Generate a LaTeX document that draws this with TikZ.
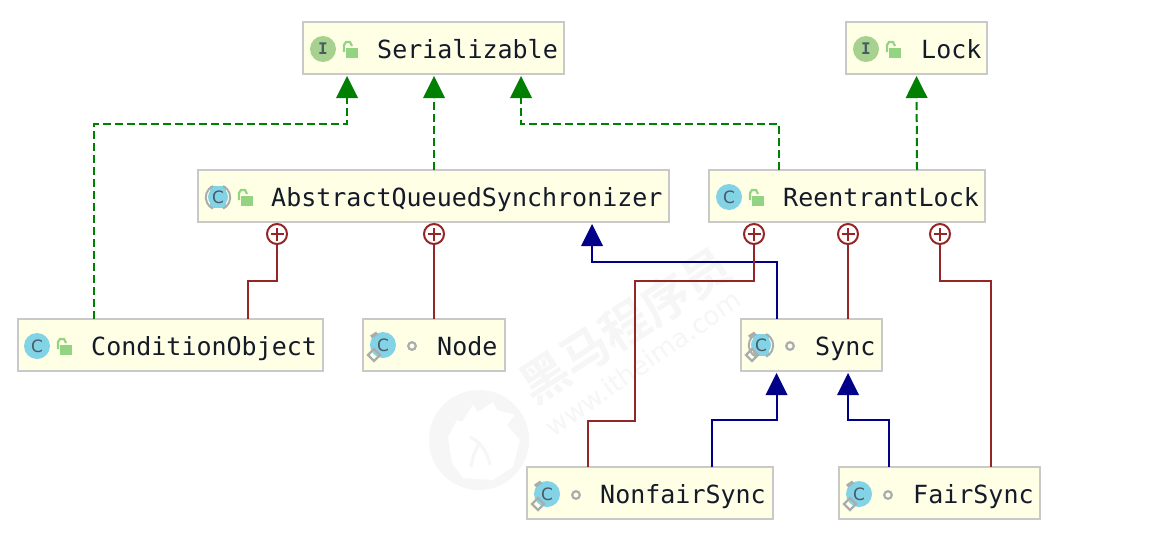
\documentclass[tikz,border=0pt]{standalone}
\usepackage{fontspec}
\setmonofont{DejaVu Sans Mono}
\newfontfamily\cjkface{Noto Sans CJK SC}[BoldFont=* Bold]
\newfontfamily\webface{DejaVu Sans}
\usetikzlibrary{arrows.meta,calc}
\definecolor{boxfill}{HTML}{FFFFE6}
\definecolor{boxedge}{HTML}{C9C9C9}
\definecolor{implgreen}{HTML}{008000}
\definecolor{extblue}{HTML}{000088}
\definecolor{innerred}{HTML}{962626}
\definecolor{classcyan}{HTML}{82D3E6}
\definecolor{ifacegreen}{HTML}{A6D18E}
\definecolor{lockgreen}{HTML}{92D482}
\definecolor{markgray}{HTML}{A9ADAE}
\definecolor{inkdark}{HTML}{141A28}
\definecolor{letterink}{HTML}{4A5A66}
\definecolor{stampgray}{HTML}{F6F6F6}
\tikzset{
  x=1pt,y=-1pt,
  umlbox/.style={draw=boxedge,fill=boxfill,line width=2pt,inner sep=0pt,rectangle,outer sep=0pt},
  umltext/.style={font=\ttfamily\fontsize{25}{26}\selectfont,text=inkdark,inner sep=0pt,anchor=base west},
  impl/.style={draw=implgreen,line width=2pt,dash pattern=on 8pt off 4pt,
    -{Triangle[length=22pt,width=22pt,fill=implgreen,line width=0pt]}},
  extends/.style={draw=extblue,line width=2pt,
    -{Triangle[length=22pt,width=22pt,fill=extblue,line width=0pt]}},
  inner/.style={draw=innerred,line width=2pt},
  plusmark/.style={circle,draw=innerred,line width=2pt,fill=white,minimum size=20pt,inner sep=0pt},
  letter/.style={font=\webface\fontsize{17}{17}\selectfont,text=letterink,inner sep=0pt},
  pics/classicon/.style={code={
    \fill[classcyan] (0,0) circle[radius=13];
    \node[letter] at (0,0) {C};}},
  pics/abstractclassicon/.style={code={
    \fill[classcyan] (0,0) circle[radius=10];
    \fill[classcyan] (-8,-11) rectangle (8,11);
    \node[letter] at (0,0) {C};
    \draw[markgray,line width=2pt] (-5,-11) arc[start angle=245,end angle=115,radius=12.5];
    \draw[markgray,line width=2pt] (5,-11) arc[start angle=295,end angle=425,radius=12.5];}},
  pics/ifaceicon/.style={code={
    \fill[ifacegreen] (0,0) circle[radius=13];
    \node[letter,font=\ttfamily\bfseries\fontsize{16}{16}\selectfont] at (0,0) {I};}},
  pics/staticpin/.style={code={
    \draw[markgray,line width=3.4pt] (-12,-8) -- (-6,-12);
    \draw[markgray,line width=2.2pt] (-9,4) -- (-3,10) -- (-9,16) -- (-15,10) -- cycle;}},
  pics/openlock/.style={code={
    \fill[lockgreen] (-2,-1) rectangle (10,9);
    \draw[lockgreen,line width=2.2pt] (-4,3) -- (-4,-4) -- (-2,-7) -- (2,-7) -- (4,-3);}},
  pics/packagedot/.style={code={
    \draw[markgray,line width=2.2pt,fill=boxfill] (0,0) circle[radius=3.8];}},
}
\begin{document}
\begin{tikzpicture}
\useasboundingbox (0,0) rectangle (1151,557);
\fill[white] (0,0) rectangle (1151,557);

% faint publisher stamp behind the diagram
\node[rotate=33,text=stampgray,font=\cjkface\bfseries\fontsize{48}{48}\selectfont,inner sep=0pt] (stampcn) at (625,325) {黑马程序员};
\node[rotate=35,text=stampgray,font=\webface\fontsize{26}{26}\selectfont,inner sep=0pt] (stampweb) at (643,363) {www.itheima.com};
\fill[stampgray] (479,440) circle[radius=50];
\fill[white] (448,437) -- (457,420) -- (462,422) -- (473,405) -- (478,412) -- (493,402) -- (497,410) -- (515,415) -- (507,425) -- (520,440) -- (513,467) -- (493,480) -- (463,478) -- (452,463) -- cycle;
\draw[stampgray,line width=3pt] (470,437) .. controls (482,442) and (488,455) .. (490,465);
\draw[stampgray,line width=3pt] (479,444) .. controls (474,452) and (472,460) .. (471,467);

% class boxes
\node[umlbox,minimum width=261pt,minimum height=52pt] (ser)  at (433.5,48)  {};
\node[umlbox,minimum width=141pt,minimum height=52pt] (lock) at (916.5,48)  {};
\node[umlbox,minimum width=471pt,minimum height=52pt] (aqs)  at (433.5,196) {};
\node[umlbox,minimum width=276pt,minimum height=52pt] (rl)   at (847,196)   {};
\node[umlbox,minimum width=305pt,minimum height=52pt] (cond) at (170.5,345) {};
\node[umlbox,minimum width=142pt,minimum height=52pt] (nd)   at (434,345)   {};
\node[umlbox,minimum width=141pt,minimum height=52pt] (syn)  at (811.5,345) {};
\node[umlbox,minimum width=246pt,minimum height=52pt] (nfs)  at (650,493)   {};
\node[umlbox,minimum width=201pt,minimum height=52pt] (fs)   at (939.5,493) {};

% class names
\node[umltext] (tser)  at (377,58.5)  {Serializable};
\node[umltext] (tlock) at (921,58.5)  {Lock};
\node[umltext] (taqs)  at (271,206.5) {AbstractQueuedSynchronizer};
\node[umltext] (trl)   at (783,206.5) {ReentrantLock};
\node[umltext] (tcond) at (91,355.5)  {ConditionObject};
\node[umltext] (tnd)   at (437,355.5) {Node};
\node[umltext] (tsyn)  at (815,355.5) {Sync};
\node[umltext] (tnfs)  at (600,503.5) {NonfairSync};
\node[umltext] (tfs)   at (913,503.5) {FairSync};

% kind and visibility icons
\pic at (323,49)  {ifaceicon};  \pic at (348,49)  {openlock};
\pic at (866,49)  {ifaceicon};  \pic at (891,49)  {openlock};
\pic at (218,197) {abstractclassicon};
\pic at (243,197) {openlock};
\pic at (729,197) {classicon};  \pic at (754,197) {openlock};
\pic at (37,346)  {classicon};  \pic at (62,346)  {openlock};
\pic at (383,345) {classicon};  \pic at (383,345) {staticpin}; \pic at (412,346) {packagedot};
\pic at (761,345) {abstractclassicon}; \pic at (761,345) {staticpin}; \pic at (790,346) {packagedot};
\pic at (547,494) {classicon};  \pic at (547,494) {staticpin}; \pic at (576,495) {packagedot};
\pic at (859,494) {classicon};  \pic at (859,494) {staticpin}; \pic at (888,495) {packagedot};

% interface realisation
\coordinate (c1) at (94,124);
\coordinate (c2) at (779,124);
\draw[impl] ([xshift=-76.5pt]cond.north) -- ([xshift=-76.5pt]cond.north |- c1) -- ([xshift=-86.5pt]ser.south |- c1) -- ([xshift=-86.5pt,yshift=-2pt]ser.south);
\draw[impl] ([xshift=.5pt]aqs.north) -- ([xshift=.5pt,yshift=-2pt]ser.south);
\draw[impl] ([xshift=-68pt]rl.north) -- ([xshift=-68pt]rl.north |- c2) -- ([xshift=87.5pt]ser.south |- c2) -- ([xshift=87.5pt,yshift=-2pt]ser.south);
\draw[impl] ([xshift=70pt]rl.north) -- ([yshift=-2pt]lock.south);

% inheritance
\coordinate (e1) at (777,262);
\coordinate (e2) at (712,420);
\draw[extends] ([xshift=-34.5pt]syn.north) -- ([xshift=-34.5pt]syn.north |- e1) -- ([xshift=158.5pt]aqs.south |- e1) -- ([xshift=158.5pt,yshift=-2pt]aqs.south);
\draw[extends] ([xshift=62pt]nfs.north) -- ([xshift=62pt]nfs.north |- e2) -- ([xshift=-35pt]syn.south |- e2) -- ([xshift=-35pt,yshift=-2pt]syn.south);
\draw[extends] ([xshift=-50.5pt]fs.north) -- ([xshift=-50.5pt]fs.north |- e2) -- ([xshift=36.5pt]syn.south |- e2) -- ([xshift=36.5pt,yshift=-2pt]syn.south);

% nesting links
\node[plusmark] (p1) at (277,234) {};
\node[plusmark] (p2) at (434,234) {};
\node[plusmark] (p3) at (754,234) {};
\node[plusmark] (p4) at (848,234) {};
\node[plusmark] (p5) at (940,234) {};
\foreach \p in {p1,p2,p3,p4,p5}{
  \draw[innerred,line width=1.6pt] ([xshift=-6.5pt]\p.center) -- ([xshift=6.5pt]\p.center);
  \draw[innerred,line width=1.6pt] ([yshift=-6.5pt]\p.center) -- ([yshift=6.5pt]\p.center);
}
\coordinate (r1) at (0,281);
\coordinate (r2) at (0,421);
\draw[inner] (p1.south) -- (p1.south |- r1) -- ([xshift=77.5pt]cond.north |- r1) -- ([xshift=77.5pt]cond.north);
\draw[inner] (p2.south) -- (nd.north);
\draw[inner] (p3.south) -- (p3.south |- r1) -- ([xshift=-15pt]nfs.north |- r1) -- ([xshift=-15pt]nfs.north |- r2) -- ([xshift=-62pt]nfs.north |- r2) -- ([xshift=-62pt]nfs.north);
\draw[inner] (p4.south) -- (p4.south |- syn.north);
\draw[inner] (p5.south) -- (p5.south |- r1) -- ([xshift=51.5pt]fs.north |- r1) -- ([xshift=51.5pt]fs.north);
\end{tikzpicture}
\end{document}
